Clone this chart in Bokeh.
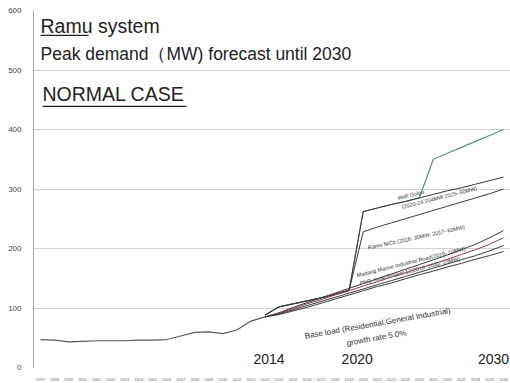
from bokeh.plotting import figure
from bokeh.models import Range1d, FixedTicker, Label, BoxAnnotation
from bokeh.embed import file_html
from bokeh.resources import INLINE

# ---------------- data ----------------
hist_years = list(range(1997, 2014))
hist_vals = [47, 46, 43, 44, 45, 45, 45, 46, 46, 47, 53, 59, 60, 57, 63, 78, 85]

proj_years = list(range(2013, 2031))
base_load = [85, 89, 95, 101, 108, 115, 122, 129, 136, 142, 149, 156, 162, 169, 175, 182, 188, 195]
png_project = [85, 90, 97, 104, 111, 118, 125, 132, 139, 146, 153, 160, 167, 174, 181, 188, 196, 205]
madang_marine = [85, 91, 99, 107, 114, 122, 129, 137, 144, 152, 159, 167, 174, 182, 190, 198, 207, 218]
madang_plus = [85, 92, 101, 109, 117, 125, 133, 141, 149, 157, 165, 173, 181, 189, 198, 207, 218, 230]
ramu_nico = [88, 102, 107, 112, 117, 123, 130, 228, 236, 243, 250, 257, 264, 271, 278, 285, 292, 300]
wafi_golpu = [88, 102, 107, 112, 117, 123, 130, 262, 268, 274, 279, 285, 291, 297, 302, 308, 314, 320]
wafi_high = [88, 102, 107, 112, 117, 123, 130, 262, 268, 274, 279, 285, 350, 360, 370, 380, 390, 400]

all_years = list(range(1997, 2031))
y_ticks = [0, 100, 200, 300, 400, 500, 600]
grid_ticks = [100, 200, 300, 400, 500]
big_years = [2014, 2020, 2030]

# ---------------- figure ----------------
p = figure(width=510, height=383, output_backend="svg", toolbar_location=None,
           x_range=Range1d(1996.5, 2030.5), y_range=Range1d(0, 600),
           min_border_left=33, min_border_right=0, min_border_top=10, min_border_bottom=13)
p.outline_line_color = None
p.background_fill_color = "white"
p.border_fill_color = "white"

p.xgrid.grid_line_color = None
p.ygrid.ticker = FixedTicker(ticks=grid_ticks)
p.ygrid.grid_line_color = "#d2d2d2"
p.ygrid.grid_line_width = 1

p.yaxis.ticker = FixedTicker(ticks=y_ticks)
p.yaxis.axis_line_color = "#a8a8a8"
p.yaxis.major_tick_line_color = None
p.yaxis.minor_tick_line_color = None
p.yaxis.major_label_text_font = "Liberation Sans"
p.yaxis.major_label_text_font_size = "8px"
p.yaxis.major_label_text_color = "#444444"
p.yaxis.major_label_standoff = 6

p.xaxis.ticker = FixedTicker(ticks=all_years)
p.xaxis.axis_line_color = None
p.xaxis.major_tick_line_color = None
p.xaxis.minor_tick_line_color = None
p.xaxis.major_label_text_font = "Liberation Sans"
p.xaxis.major_label_text_font_size = "4px"
p.xaxis.major_label_text_color = "#666666"
p.xaxis.major_label_standoff = 4

# ---------------- lines ----------------
p.line(hist_years, hist_vals, line_color="#5a5a5a", line_width=1.2)
p.line(proj_years, wafi_high, line_color="#5e8f7c", line_width=1.2)
p.line(proj_years, wafi_golpu, line_color="#3a3a3a", line_width=1)
p.line(proj_years, ramu_nico, line_color="#3a3a3a", line_width=1)
p.line(proj_years, madang_plus, line_color="#3a3a3a", line_width=1)
p.line(proj_years, madang_marine, line_color="#8a4050", line_width=1)
p.line(proj_years, png_project, line_color="#3a3a3a", line_width=1)
p.line(proj_years, base_load, line_color="#3a3a3a", line_width=1)

# ---------------- texts ----------------
def px2x(px):
    return 1996.5 + (px - 33) / (477 / 34)

def px2y(py):
    return (370 - py) / 0.6

title_font = "Liberation Sans"
p.add_layout(Label(x=px2x(40), y=px2y(37), text="Ramu system", text_font=title_font,
                   text_font_size="19.5px", text_color="#222222"))
p.add_layout(Label(x=px2x(40), y=px2y(64), text="Peak demand（MW) forecast until 2030",
                   text_font=title_font, text_font_size="17.5px", text_color="#222222"))
p.add_layout(Label(x=px2x(42), y=px2y(105), text="NORMAL CASE", text_font=title_font,
                   text_font_size="19.5px", text_color="#222222"))
p.add_layout(BoxAnnotation(left=px2x(40), right=px2x(88), top=px2y(34.5), bottom=px2y(35.8),
                           fill_color="#222222", fill_alpha=1, line_color=None))
p.add_layout(BoxAnnotation(left=px2x(42), right=px2x(186), top=px2y(106), bottom=px2y(107.3),
                           fill_color="#222222", fill_alpha=1, line_color=None))

big_offsets = [-10, -6, -10]
for yr, off in zip(big_years, big_offsets):
    p.add_layout(Label(x=yr, y=px2y(366), x_offset=off, text=str(yr), text_align="center",
                       text_font=title_font, text_font_size="14px", text_color="#222222"))

small = "5.5px"
notes = [
    ("Wafi Golpu", 398, 202, 14),
    ("(2020-24 204MW 2025- 60MW)", 402, 211, 14),
    ("Ramu NiCo (2016: 30MW, 2017- 60MW)", 368, 252, 12),
    ("Madang Marine Industrial Road(2016- 10MW)", 357, 280, 14),
    ("PNG Yonki Project 12(2016~2030: 23MW)", 360, 288, 14),
]
for txt, xx, yy, ang in notes:
    p.add_layout(Label(x=px2x(xx), y=px2y(yy), text=txt, angle=ang, angle_units="deg",
                       text_font=title_font, text_font_size=small, text_color="#333333"))

p.add_layout(Label(x=px2x(305), y=px2y(343), text="Base load (Residential,General Industrial)",
                   angle=10, angle_units="deg", text_font=title_font, text_font_size="8px",
                   text_color="#333333"))
p.add_layout(Label(x=px2x(347), y=px2y(350), text="growth rate 5.0%",
                   angle=10, angle_units="deg", text_font=title_font, text_font_size="8px",
                   text_color="#333333"))

open("out.html", "w").write(file_html(p, INLINE))
